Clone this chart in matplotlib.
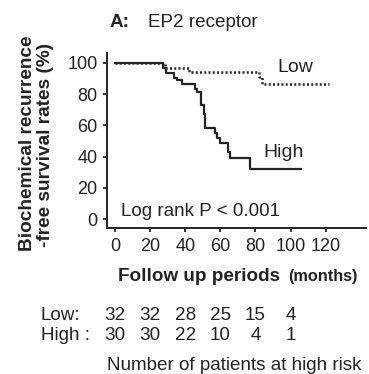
import numpy as np
import matplotlib.pyplot as plt

plt.rcParams['font.family'] = ['Liberation Sans', 'DejaVu Sans']

# Kaplan-Meier steps
low_t = [0, 28.6, 41.9, 82.0, 83.5, 122]
low_s = [100, 96.9, 93.8, 90.6, 86.7, 86.7]
high_t = [0, 27.6, 29.1, 33.7, 35.2, 38.1, 45.7, 46.7, 49.0, 50.5, 51.4,
          57.1, 58.1, 59.6, 64.2, 65.3, 77.1, 106]
high_s = [100, 96.7, 93.3, 90.3, 88.8, 86.1, 83.5, 81.0, 73.0, 67.5, 58.0,
          54.8, 51.6, 48.4, 43.0, 38.8, 32.4, 32.4]

# at-risk table
risk_times = [0, 20, 40, 60, 80, 100]
risk_low = [32, 32, 28, 25, 15, 4]
risk_high = [30, 30, 22, 10, 4, 1]

W, H = 369, 374
INK = '#222222'
FS = 13.6

fig = plt.figure(figsize=(W / 100, H / 100), dpi=100)
ax = fig.add_axes([107.3 / W, 1 - 228.3 / H, (366 - 107.3) / W, (228.3 - 53) / H])

ax.step(low_t, low_s, where='post', color=INK, lw=1.8, ls=(0, (0.8, 0.9)))
ax.step(high_t, high_s, where='post', color=INK, lw=1.6)

ax.set_xlim(-4.4, 143)
ax.set_ylim(-5.8, 106.2)
ax.set_xticks(np.arange(0, 121, 20))
ax.set_yticks(np.arange(0, 101, 20))
ax.spines['top'].set_visible(False)
ax.spines['right'].set_visible(False)
for s in ['left', 'bottom']:
    ax.spines[s].set_linewidth(1.4)
    ax.spines[s].set_color(INK)
ax.tick_params(direction='out', length=3, width=1.3, labelsize=13, pad=4,
               colors=INK)

ax.text(3.4, 2.0, 'Log rank P < 0.001', fontsize=FS, color=INK, va='baseline')
ax.text(92.6, 94, 'Low', fontsize=14, color=INK, va='baseline')
ax.text(84.6, 39.6, 'High', fontsize=14, color=INK, va='baseline')


def ftext(x, y, s, **kw):
    fig.text(x / W, 1 - y / H, s, color=INK, **kw)


# title
ftext(110, 27, 'A:', fontsize=FS, fontweight='bold', va='baseline')
ftext(148, 27, 'EP2 receptor', fontsize=FS, va='baseline')

# y label, two lines
ftext(36, 143, 'Biochemical recurrence', rotation=90, fontsize=13.7,
      fontweight='bold', ha='right', va='center')
ftext(54, 145, '-free survival rates (%)', rotation=90, fontsize=13.7,
      fontweight='bold', ha='right', va='center')

# x label
ftext(118, 281, 'Follow up periods', fontsize=FS, fontweight='bold', va='baseline')
ftext(288, 281, '(months)', fontsize=11.7, fontweight='bold', va='baseline')

# risk table
ftext(41, 320, 'Low:', fontsize=FS, va='baseline')
ftext(41, 340, 'High :', fontsize=FS, va='baseline')
trans = ax.get_xaxis_transform()
to_ax = ax.transAxes.inverted()
y_low = to_ax.transform(fig.transFigure.transform((0, 1 - 320 / H)))[1]
y_high = to_ax.transform(fig.transFigure.transform((0, 1 - 340 / H)))[1]
for t, a, b in zip(risk_times, risk_low, risk_high):
    ax.text(t, y_low, str(a), transform=trans, fontsize=FS, ha='center',
            va='baseline', clip_on=False, color=INK)
    ax.text(t, y_high, str(b), transform=trans, fontsize=FS, ha='center',
            va='baseline', clip_on=False, color=INK)

ftext(107, 370, 'Number of patients at high risk', fontsize=FS, va='baseline')

fig.savefig('out.png', dpi=100)
